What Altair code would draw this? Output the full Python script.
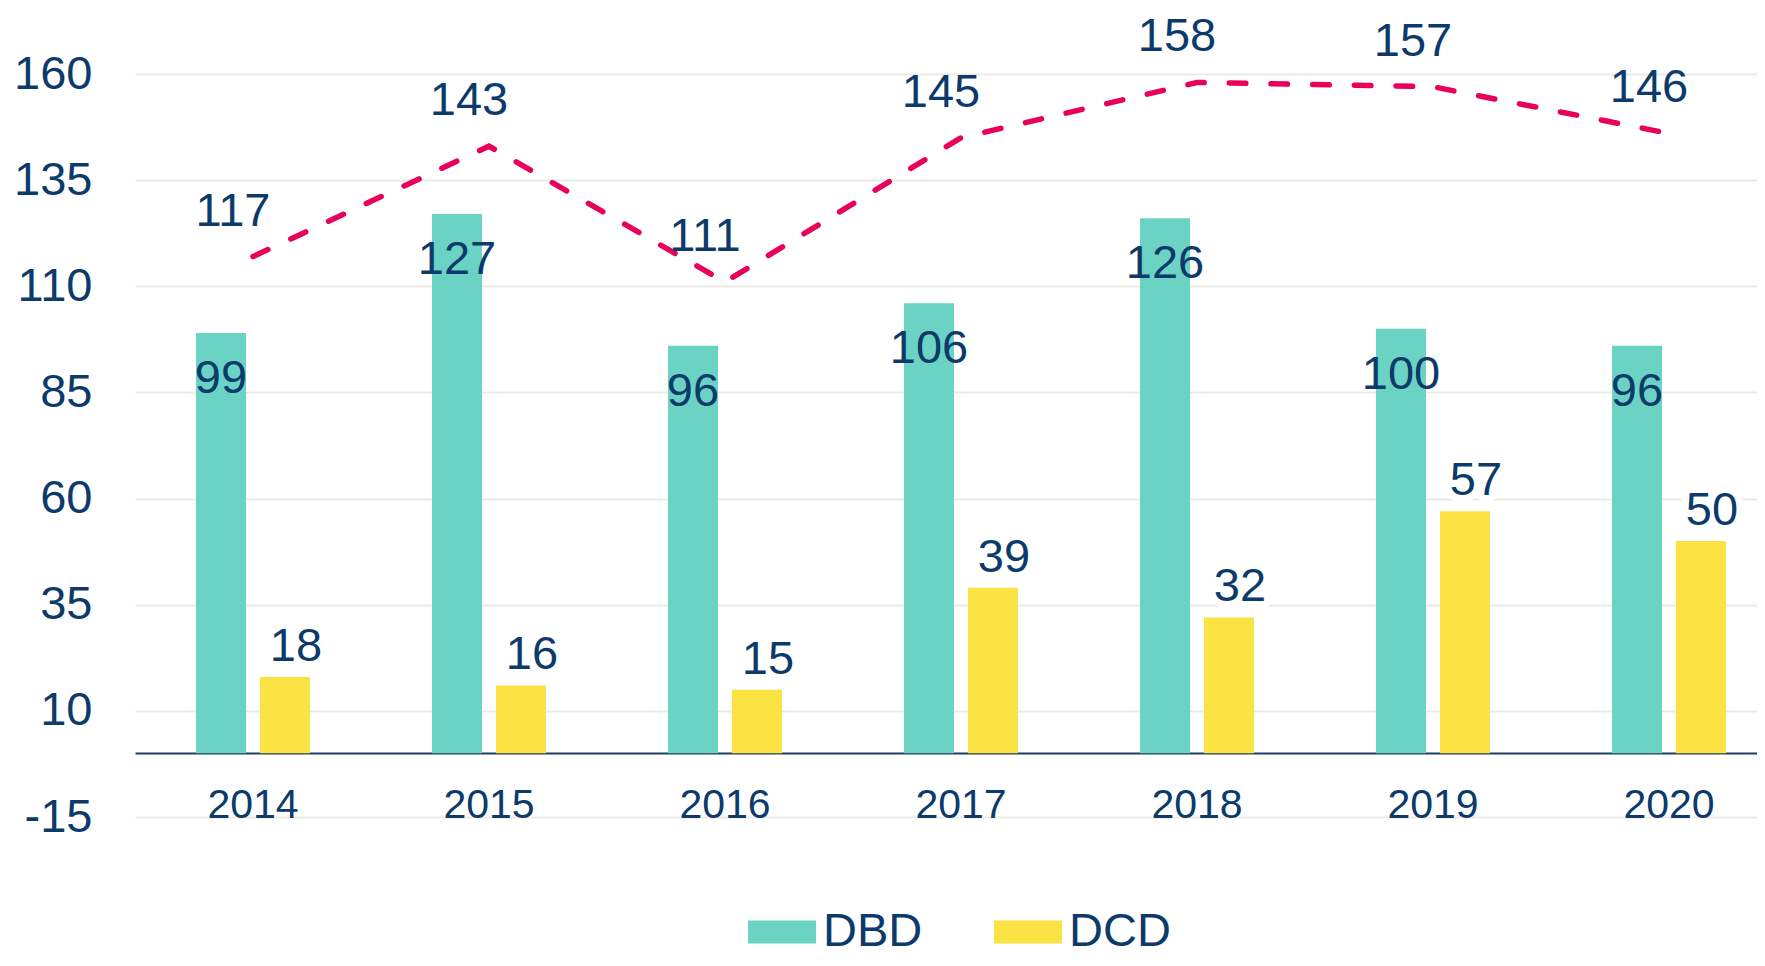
import altair as alt
import pandas as pd

# ---- data ----
years = ["2014", "2015", "2016", "2017", "2018", "2019", "2020"]
dbd = [99, 127, 96, 106, 126, 100, 96]
dcd = [18, 16, 15, 39, 32, 57, 50]
total = [117, 143, 111, 145, 158, 157, 146]
series = ["DBD", "DCD"]
series_colors = ["#6AD3C3", "#FBE344"]
y_ticks = [-15, 10, 35, 60, 85, 110, 135, 160]

bars_df = pd.DataFrame({
    "year": years * 2,
    "series": [series[0]] * len(years) + [series[1]] * len(years),
    "value": dbd + dcd,
})
line_df = pd.DataFrame({"year": years, "value": total})

TEXT = "#0B3A6B"
FONT = "Liberation Sans"
LINE = "#E8005A"

x_axis = alt.Axis(title=None, labelAngle=0, offset=-64, domainColor="#1F3D60",
                  domainWidth=2, ticks=False, tickSize=0, labelFontSize=41,
                  labelColor=TEXT, labelFont=FONT, labelPadding=32)
x_enc = alt.X("year:N", sort=years,
              scale=alt.Scale(domain=years, range=[0, 1652], paddingInner=0, paddingOuter=0),
              axis=x_axis)
y_axis = alt.Axis(title=None, values=y_ticks, grid=True, gridColor="#EBEBE6", gridWidth=2,
                  domain=False, ticks=False, tickSize=0, labelFontSize=47, labelColor=TEXT,
                  labelFont=FONT, labelPadding=43, labelExpr="'' + datum.value")
y_enc = alt.Y("value:Q", scale=alt.Scale(domain=[-15, 160], nice=False, zero=False), axis=y_axis)
xo_enc = alt.XOffset("series:N", scale=alt.Scale(domain=series, paddingInner=0.21875, paddingOuter=0.953))

color_enc = alt.Color(
    "series:N",
    scale=alt.Scale(domain=series, range=series_colors),
    legend=alt.Legend(title=None, orient="none", legendX=613, legendY=824, direction="horizontal",
                      symbolType="M-1,-0.34H1V0.34H-1Z", symbolSize=4624, symbolStrokeWidth=0,
                      symbolOpacity=1, labelFontSize=47, labelColor=TEXT, labelFont=FONT,
                      labelOffset=7, columnPadding=71, padding=0),
)

base_bars = alt.Chart(bars_df)
base_line = alt.Chart(line_df)

halo_dcd = base_bars.transform_filter(alt.datum.series == "DCD").mark_text(
    baseline="alphabetic", dy=-16, dx=11, fontSize=47, font=FONT, fill="white",
    stroke="white", strokeWidth=14, strokeJoin="round"
).encode(x=x_enc, xOffset=xo_enc, y=y_enc, text="value:Q")

bars = base_bars.mark_bar().encode(x=x_enc, xOffset=xo_enc, y=y_enc, color=color_enc)

line = base_line.mark_line(color=LINE, strokeWidth=5.5, strokeDash=[16.5, 25.2],
                           strokeCap="round").encode(x=x_enc, y=y_enc)

dbd_text = base_bars.transform_filter(alt.datum.series == "DBD").mark_text(
    baseline="middle", dy=46, fontSize=47, font=FONT, color=TEXT
).encode(x=x_enc, xOffset=xo_enc, y=y_enc, text="value:Q")

dcd_text = base_bars.transform_filter(alt.datum.series == "DCD").mark_text(
    baseline="alphabetic", dy=-16, dx=11, fontSize=47, font=FONT, color=TEXT
).encode(x=x_enc, xOffset=xo_enc, y=y_enc, text="value:Q")

line_text = base_line.mark_text(
    baseline="middle", dx=-20, dy=-45, fontSize=47, font=FONT, color=TEXT
).encode(x=x_enc, y=y_enc, text="value:Q")

chart = alt.layer(halo_dcd, bars, line, dbd_text, dcd_text, line_text).properties(
    width=1622, height=743,
    padding={"left": 127, "top": 66, "right": 0, "bottom": 141},
    autosize=alt.AutoSizeParams(type="none"),
).configure_view(stroke=None)

chart.save("out.html", embed_options={"renderer": "svg", "actions": False})
